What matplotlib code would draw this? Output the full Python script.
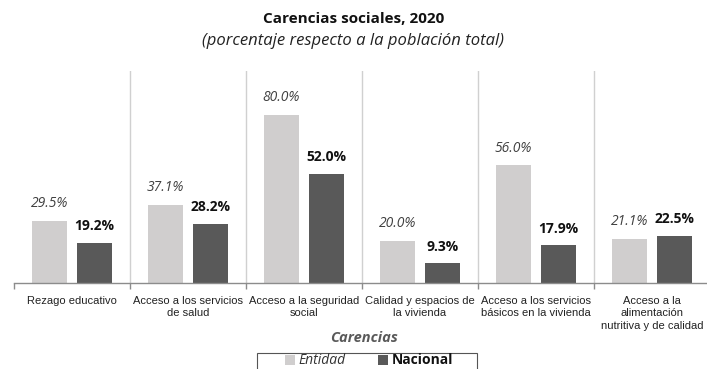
import matplotlib
matplotlib.use("Agg")
import matplotlib.pyplot as plt
from matplotlib.patches import Patch, Rectangle
import numpy as np

categories = [
    "Rezago educativo",
    "Acceso a los servicios\nde salud",
    "Acceso a la seguridad\nsocial",
    "Calidad y espacios de\nla vivienda",
    "Acceso a los servicios\nbásicos en la vivienda",
    "Acceso a la\nalimentación\nnutritiva y de calidad",
]
entidad = [29.5, 37.1, 80.0, 20.0, 56.0, 21.1]
nacional = [19.2, 28.2, 52.0, 9.3, 17.9, 22.5]
series_names = ["Entidad", "Nacional"]

c_ent = "#d0cece"
c_nac = "#595959"

fig = plt.figure(figsize=(7.07, 3.69), dpi=100)
W, H = 707, 369
left, right, top, bottom = 14, 710, 71, 283
ax = fig.add_axes([left / W, 1 - bottom / H, (right - left) / W, (bottom - top) / H])

x = np.arange(len(categories))
bw = 0.30
off = 0.195
ax.bar(x - off, entidad, bw, color=c_ent, zorder=2)
ax.bar(x + off, nacional, bw, color=c_nac, zorder=2)

for i in range(len(categories)):
    ax.annotate(f"{entidad[i]:.1f}%", (x[i] - off, entidad[i]), xytext=(0, 7),
                textcoords="offset points", ha="center", va="bottom",
                fontsize=10, fontstyle="italic", color="#404040", family="Open Sans")
    ax.annotate(f"{nacional[i]:.1f}%", (x[i] + off, nacional[i]), xytext=(0, 7),
                textcoords="offset points", ha="center", va="bottom",
                fontsize=10, fontweight="bold", color="#111111", family="Open Sans")

for b in np.arange(0.5, len(categories) - 0.5, 1.0):
    ax.axvline(b, color="#d0d0d0", lw=1.0, zorder=1)

ax.set_xlim(-0.5, len(categories) - 0.5)
ax.set_ylim(0, 101)
ax.set_yticks([])
for s in ["top", "right", "left"]:
    ax.spines[s].set_visible(False)
ax.spines["bottom"].set_color("#8c8c8c")
ax.spines["bottom"].set_linewidth(1.0)

ax.set_xticks(np.arange(-0.5, len(categories), 1.0), minor=False)
ax.set_xticklabels([])
ax.tick_params(axis="x", which="major", length=4, color="#8c8c8c", width=1)
ax.set_xticks(x, minor=True)
ax.set_xticklabels(categories, minor=True, fontsize=8, family="Liberation Sans",
                   color="#222222", linespacing=1.35)
ax.tick_params(axis="x", which="minor", length=0, pad=9)

fig.text(0.5 + 0.0, 1 - 19 / H, "Carencias sociales, 2020", ha="center", va="center",
         fontsize=11, fontweight="bold", family="Open Sans", color="#111111")
fig.text(0.5 + 0.0, 1 - 41 / H, "(porcentaje respecto a la población total)", ha="center",
         va="center", fontsize=12, fontstyle="italic", family="Open Sans", color="#222222")

fig.text(364 / W, 1 - 338 / H, "Carencias", ha="center", va="center", fontsize=10.5,
         fontweight="bold", fontstyle="italic", family="Open Sans", color="#595959")

# legend frame drawn as a figure rectangle (box is cut by the bottom edge)
fig.patches.append(Rectangle((257 / W, -0.02), (477 - 257) / W, 0.02 + (369 - 353) / H,
                             transform=fig.transFigure, facecolor="white",
                             edgecolor="#555555", lw=0.8, zorder=0))

handles = [Patch(facecolor=c_ent), Patch(facecolor=c_nac)]
leg = fig.legend(handles, series_names, loc="center", bbox_to_anchor=(369 / W, 1 - 361 / H),
                 borderaxespad=0, ncol=2, frameon=False,
                 handlelength=0.7, handleheight=0.7, handletextpad=0.3, columnspacing=2.3,
                 borderpad=0.0, prop={"family": "Open Sans", "size": 10})
texts = leg.get_texts()
texts[0].set_fontstyle("italic")
texts[0].set_color("#333333")
texts[1].set_fontweight("bold")
texts[1].set_color("#111111")

fig.savefig("out.png", dpi=100)
